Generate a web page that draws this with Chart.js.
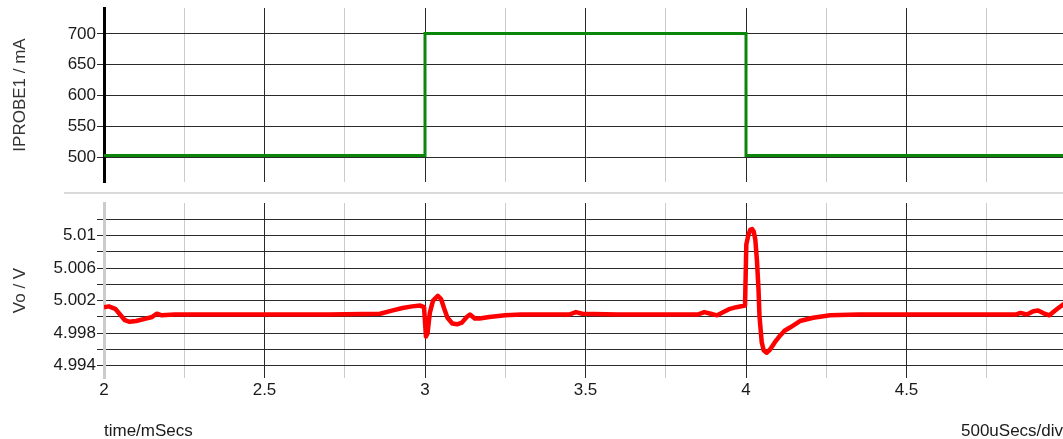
<!DOCTYPE html>
<html>
<head>
<meta charset="utf-8">
<script src="https://cdn.jsdelivr.net/npm/chart.js@4.4.1/dist/chart.umd.min.js"></script>
<style>
  body {
    margin: 0;
    width: 1063px;
    height: 439px;
    overflow: hidden;
    background: #fff;
    position: relative;
  }
  canvas { position: absolute; left: 0; }
  #currentChart { top: 0; }
  #voltChart { top: 195px; }
  .divider {
    position: absolute;
    left: 64px;
    top: 192px;
    width: 1010px;
    height: 2px;
    background: #dadada;
  }
</style>
</head>
<body>
<canvas id="currentChart" width="1080" height="190"></canvas>
<div class="divider"></div>
<canvas id="voltChart" width="1080" height="244"></canvas>
<script>
// time axis (ms)
const timeTicks = [2, 2.25, 2.5, 2.75, 3, 3.25, 3.5, 3.75, 4, 4.25, 4.5, 4.75, 5];
const timeLabels = [2, 2.5, 3, 3.5, 4, 4.5, 5];

// IPROBE1 load step (mA)
const currentTime = [2, 3, 3, 4, 4, 5];
const currentMa = [503, 503, 700.5, 700.5, 503, 503];
const currentTicks = [500, 550, 600, 650, 700];

// Vo response (V)
const voltTime = [
  2.000, 2.015, 2.035, 2.050, 2.065, 2.080, 2.100, 2.130, 2.150, 2.165, 2.180, 2.220,
  2.300, 2.500, 2.700, 2.860, 2.900, 2.930, 2.960, 2.985, 2.997,
  3.003, 3.008, 3.015, 3.025, 3.040, 3.050, 3.060, 3.070, 3.085, 3.100, 3.115, 3.130,
  3.140, 3.155, 3.170, 3.200, 3.250, 3.300, 3.450, 3.470, 3.490, 3.600, 3.850, 3.870,
  3.890, 3.910, 3.930, 3.950, 3.970, 3.997,
  4.001, 4.007, 4.013, 4.019, 4.024, 4.029, 4.034, 4.039, 4.042, 4.049, 4.055, 4.064,
  4.075, 4.090, 4.106, 4.120, 4.137, 4.168, 4.209, 4.262, 4.350, 4.600, 4.840, 4.855,
  4.875, 4.895, 4.910, 4.930, 4.945, 4.970, 4.990, 5.000
];
const voltValue = [
  5.0012, 5.0013, 5.0010, 5.0003, 4.9996, 4.9994, 4.9995, 4.9998, 5.0000, 5.0004, 5.0002, 5.0003,
  5.0003, 5.0003, 5.0003, 5.0004, 5.0008, 5.0011, 5.0013, 5.0014, 5.0012,
  4.9976, 4.9980, 5.0005, 5.0020, 5.0026, 5.0022, 5.0010, 4.9999, 4.9992, 4.9991, 4.9993, 5.0000,
  5.0003, 4.9998, 4.9998, 5.0000, 5.0002, 5.0003, 5.0003, 5.0006, 5.0004, 5.0003, 5.0003, 5.0006,
  5.0004, 5.0002, 5.0006, 5.0010, 5.0012, 5.0014,
  5.0089, 5.0100, 5.0107, 5.0108, 5.0105, 5.0095, 5.0070, 5.0034, 5.0001, 4.9969, 4.9959, 4.9956,
  4.9960, 4.9969, 4.9977, 4.9983, 4.9987, 4.9995, 4.9999, 5.0002, 5.0003, 5.0003, 5.0003, 5.0005,
  5.0003, 5.0007, 5.0008, 5.0004, 5.0002, 5.0010, 5.0016, 5.0019
];
const voltTicks = [4.994, 4.996, 4.998, 5.000, 5.002, 5.004, 5.006, 5.008, 5.010, 5.012];
const voltLabels = [4.994, 4.998, 5.002, 5.006, 5.010];

const FONT = { family: "'Liberation Sans', Arial, sans-serif", size: 17 };
const TEXT = '#1a1a1a';
const GRID_DARK = '#2a2a2a';
const GRID_LIGHT = '#cccccc';

const hasValue = (list, v) => list.some((x) => Math.abs(x - v) < 1e-6);
const toPoints = (xs, ys) => xs.map((x, i) => ({ x, y: ys[i] }));

// label overflow would otherwise shrink the plot area
const noLabelPadding = (s) => {
  s.paddingTop = 0;
  s.paddingBottom = 0;
  s.paddingLeft = 0;
  s.paddingRight = 0;
};

// time grid: black every 0.5 ms, light grey on the quarter marks
function timeScale(showLabels) {
  return {
    type: 'linear',
    min: 2,
    max: 5,
    afterBuildTicks: (s) => { s.ticks = timeTicks.map((value) => ({ value })); },
    afterFit: (s) => { s.height = showLabels ? 61 : 0; noLabelPadding(s); },
    ticks: {
      display: showLabels,
      autoSkip: false,
      maxRotation: 0,
      padding: 2,
      color: TEXT,
      font: FONT,
      callback: (v) => (hasValue(timeLabels, v) ? String(v) : ''),
    },
    grid: {
      drawTicks: false,
      color: (ctx) => (ctx.tick && hasValue(timeLabels, ctx.tick.value) ? GRID_DARK : GRID_LIGHT),
      lineWidth: 1,
    },
    border: { display: false },
    title: {
      display: showLabels,
      text: 'time/mSecs',
      align: 'start',
      color: TEXT,
      font: { ...FONT, lineHeight: 1.1 },
      padding: { top: 0, bottom: -2 },
    },
  };
}

function valueScale(min, max, ticks, labels, title, borderColor, fmt) {
  return {
    min,
    max,
    afterBuildTicks: (s) => { s.ticks = ticks.map((value) => ({ value })); },
    afterFit: (s) => { s.width = 104; noLabelPadding(s); },
    ticks: {
      autoSkip: false,
      padding: 1,
      color: TEXT,
      font: FONT,
      callback: (v) => (hasValue(labels, v) ? fmt(v) : ''),
    },
    grid: { color: GRID_DARK, lineWidth: 1, tickLength: 7 },
    border: { color: borderColor, width: 3 },
    title: {
      display: true,
      text: title,
      color: '#333',
      font: { ...FONT, lineHeight: 1.2 },
      padding: { top: 10, bottom: 0 },
    },
  };
}

const divLabel = {
  id: 'divLabel',
  afterDraw(chart) {
    const { ctx } = chart;
    ctx.save();
    ctx.font = `${FONT.size}px ${FONT.family}`;
    ctx.fillStyle = TEXT;
    ctx.textBaseline = 'middle';
    ctx.fillText('500uSecs/div', 961, 236);
    ctx.restore();
  },
};

const common = {
  responsive: false,
  animation: false,
  events: [],
  plugins: { legend: { display: false }, tooltip: { enabled: false } },
  elements: { point: { radius: 0 }, line: { tension: 0 } },
};

new Chart(document.getElementById('currentChart'), {
  type: 'line',
  data: {
    datasets: [{
      data: toPoints(currentTime, currentMa),
      borderColor: '#0a870a',
      borderWidth: 3,
    }],
  },
  options: {
    ...common,
    layout: { padding: { top: 8, right: 13, bottom: 8, left: 0 } },
    scales: {
      x: timeScale(false),
      y: valueScale(460, 742, currentTicks, currentTicks, 'IPROBE1 / mA', '#000', (v) => String(v)),
    },
  },
});

new Chart(document.getElementById('voltChart'), {
  type: 'line',
  data: {
    datasets: [{
      data: toPoints(voltTime, voltValue),
      borderColor: '#ff0000',
      borderWidth: 4.5,
      borderJoinStyle: 'round',
    }],
  },
  options: {
    ...common,
    layout: { padding: { top: 8, right: 13, bottom: 0, left: 0 } },
    scales: {
      x: timeScale(true),
      y: valueScale(4.9925, 5.014, voltTicks, voltLabels, 'Vo / V', GRID_LIGHT,
        (v) => String(Number(v.toFixed(3)))),
    },
  },
  plugins: [divLabel],
});
</script>
</body>
</html>
